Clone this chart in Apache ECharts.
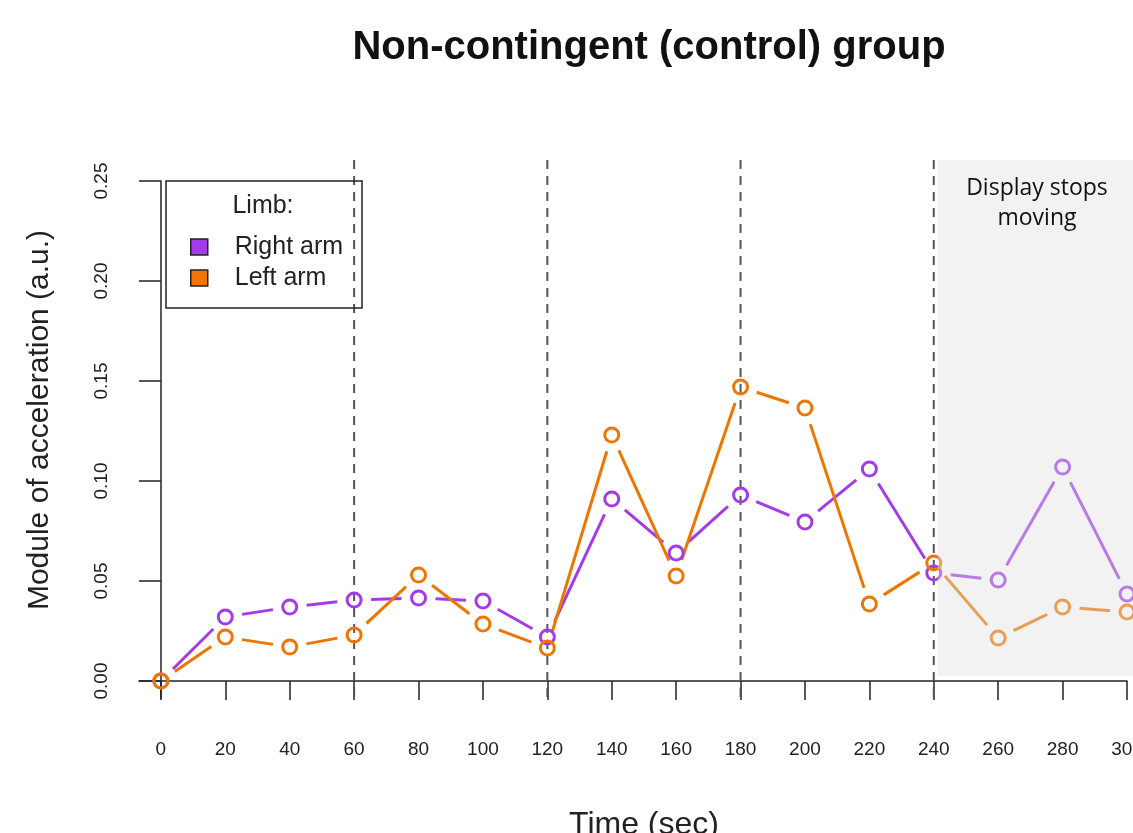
<!DOCTYPE html>
<html>
<head>
<meta charset="utf-8">
<script src="https://cdn.jsdelivr.net/npm/echarts@6/dist/echarts.min.js"></script>
<style>
html,body{margin:0;padding:0;background:#fff;}
#chart{width:1133px;height:833px;}
</style>
</head>
<body>
<div id="chart"></div>
<script>
// ---- data ----
const timeSec = [0,20,40,60,80,100,120,140,160,180,200,220,240,260,280,300];
const rightArm = [0.000,0.032,0.037,0.0405,0.0415,0.040,0.022,0.091,0.064,0.093,0.0795,0.106,0.054,0.0505,0.107,0.0435];
const leftArm  = [0.000,0.022,0.017,0.023,0.053,0.0285,0.0165,0.123,0.0525,0.147,0.1365,0.0385,0.059,0.0215,0.037,0.0345];
const phaseLines = [60,120,180,240];
const displayStopStart = 240;
const xTicks = [0,20,40,60,80,100,120,140,160,180,200,220,240,260,280,300];
const yTicks = [0,0.05,0.10,0.15,0.20,0.25];
const yTickLabels = ['0.00','0.05','0.10','0.15','0.20','0.25'];

const PURPLE = '#A43BEB';
const ORANGE = '#EE7600';
const FONT = '"Liberation Sans", Arial, sans-serif';

function pairs(xs, ys){
  const out = [];
  for (let i = 0; i < xs.length - 1; i++) out.push([xs[i], ys[i], xs[i+1], ys[i+1]]);
  return out;
}
function segRenderer(color){
  return function(params, api){
    const p0 = api.coord([api.value(0), api.value(1)]);
    const p1 = api.coord([api.value(2), api.value(3)]);
    const dx = p1[0]-p0[0], dy = p1[1]-p0[1];
    const len = Math.sqrt(dx*dx+dy*dy);
    const gap = 17;
    if (len <= 2*gap) return null;
    const ux = dx/len, uy = dy/len;
    return {
      type:'line',
      shape:{x1:p0[0]+ux*gap, y1:p0[1]+uy*gap, x2:p1[0]-ux*gap, y2:p1[1]-uy*gap},
      style:{stroke:color, lineWidth:3}
    };
  };
}

const chart = echarts.init(document.getElementById('chart'));
chart.setOption({
  animation:false,
  backgroundColor:'#fff',
  grid:{left:139, right:6, top:181, bottom:135, outerBoundsMode:'none', containLabel:false},
  xAxis:{
    type:'value', min:-6.8, max:300,
    axisLine:{onZero:true, lineStyle:{color:'#222', width:1.5}},
    axisTick:{show:true, length:19, customValues:xTicks, lineStyle:{color:'#222', width:1.5}},
    axisLabel:{customValues:xTicks, margin:42, fontSize:19, color:'#222', fontFamily:FONT},
    splitLine:{show:false}
  },
  yAxis:{
    type:'value', min:-0.0085, max:0.25,
    axisLine:{show:true, onZero:true, lineStyle:{color:'#222', width:1.5}},
    axisTick:{show:true, length:22, customValues:yTicks, lineStyle:{color:'#222', width:1.5}},
    axisLabel:{customValues:yTicks, rotate:90, margin:28, fontSize:19, color:'#222', fontFamily:FONT,
      formatter:function(v){ const i = yTicks.findIndex(t=>Math.abs(t-v)<1e-9); return i>=0?yTickLabels[i]:''; }},
    splitLine:{show:false}
  },
  legend:{
    orient:'vertical', left:190, top:234, padding:0, itemGap:5,
    itemWidth:17, itemHeight:16,
    textStyle:{fontSize:25, color:'#222', fontFamily:FONT, lineHeight:26, padding:[0,0,0,22]},
    data:[
      {name:'Right arm', icon:'rect', itemStyle:{color:PURPLE, borderColor:'#222', borderWidth:1.5}},
      {name:'Left arm', icon:'rect', itemStyle:{color:ORANGE, borderColor:'#222', borderWidth:1.5}}
    ]
  },
  series:[
    {
      type:'custom', name:'phases', z:1, silent:true,
      data:phaseLines.map(v=>[v]),
      encode:{x:0},
      renderItem:function(params, api){
        const a = api.coord([api.value(0), 0.2605]);
        const b = api.coord([api.value(0), -0.0085]);
        return {type:'line', shape:{x1:a[0], y1:a[1], x2:b[0], y2:b[1]},
          style:{stroke:'#555', lineWidth:2, lineDash:[9,7]}};
      }
    },
    {
      type:'custom', name:'rightSeg', z:2, silent:true,
      data:pairs(timeSec, rightArm), encode:{x:[0,2], y:[1,3]},
      renderItem:segRenderer(PURPLE)
    },
    {
      type:'custom', name:'leftSeg', z:2, silent:true,
      data:pairs(timeSec, leftArm), encode:{x:[0,2], y:[1,3]},
      renderItem:segRenderer(ORANGE)
    },
    {
      type:'scatter', name:'Right arm', z:3, symbol:'circle', symbolSize:14,
      itemStyle:{color:'rgba(0,0,0,0)', borderColor:PURPLE, borderWidth:3, opacity:1},
      data:timeSec.map((t,i)=>[t,rightArm[i]])
    },
    {
      type:'scatter', name:'Left arm', z:3, symbol:'circle', symbolSize:14,
      itemStyle:{color:'rgba(0,0,0,0)', borderColor:ORANGE, borderWidth:3, opacity:1},
      data:timeSec.map((t,i)=>[t,leftArm[i]])
    },
    {
      type:'custom', name:'shade', z:4, silent:true,
      data:[[displayStopStart+1.2, 330]], encode:{x:[0,1]},
      renderItem:function(params, api){
        const a = api.coord([api.value(0), 0.2605]);
        const b = api.coord([api.value(1), 0.0025]);
        return {type:'rect', shape:{x:a[0], y:a[1], width:b[0]-a[0], height:b[1]-a[1]},
          style:{fill:'rgba(222,222,222,0.39)'}};
      }
    }
  ],
  graphic:[
    {type:'text', x:649, y:48, z:10,
      style:{text:'Non-contingent (control) group', font:'bold 40px '+FONT, fill:'#111', align:'center', verticalAlign:'middle'}},
    {type:'text', x:40, y:420, rotation:Math.PI/2, z:10,
      style:{text:'Module of acceleration (a.u.)', font:'30px '+FONT, fill:'#222', align:'center', verticalAlign:'middle'}},
    {type:'text', x:644, y:825, z:10,
      style:{text:'Time (sec)', font:'32px '+FONT, fill:'#222', align:'center', verticalAlign:'middle'}},
    {type:'rect', x:166, y:181, z:10, shape:{width:196, height:127},
      style:{fill:'none', stroke:'#222', lineWidth:1.5}},
    {type:'text', x:263, y:206, z:10,
      style:{text:'Limb:', font:'25px '+FONT, fill:'#222', align:'center', verticalAlign:'middle'}},
    {type:'text', x:1037, y:203, z:10,
      style:{text:'Display stops\nmoving', font:'23px "Open Sans", sans-serif', lineHeight:30, fill:'#111', align:'center', verticalAlign:'middle'}}
  ]
});
</script>
</body>
</html>
